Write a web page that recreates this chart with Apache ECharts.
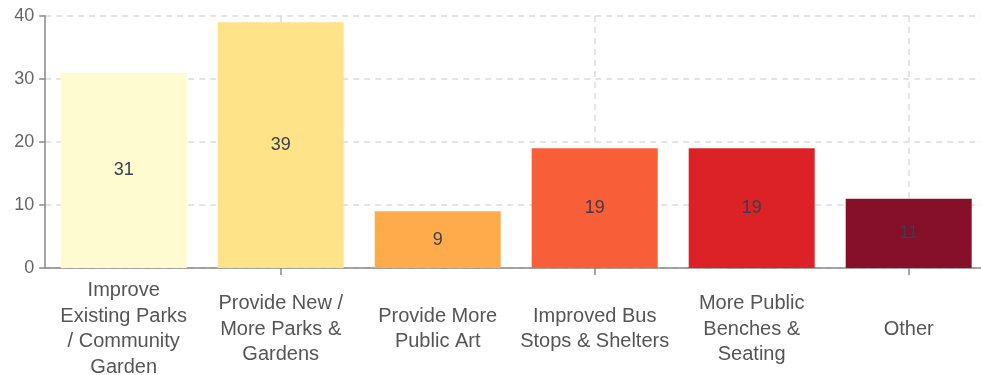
<!DOCTYPE html>
<html>
<head>
<meta charset="utf-8">
<script src="https://cdn.jsdelivr.net/npm/echarts@6/dist/echarts.min.js"></script>
<style>
  html, body { margin: 0; padding: 0; background: #ffffff; }
  #chart { width: 981px; height: 375px; }
</style>
</head>
<body>
<div id="chart"></div>
<script>
// Survey responses: preferred public-space improvements
const categories = [
  'Improve\nExisting Parks\n/ Community\nGarden',
  'Provide New /\nMore Parks &\nGardens',
  'Provide More\nPublic Art',
  'Improved Bus\nStops & Shelters',
  'More Public\nBenches &\nSeating',
  'Other'
];
const responses = [31, 39, 9, 19, 19, 11];
const barColors = ['#fffbd0', '#fee388', '#ffab4c', '#f85e38', '#dc2227', '#86102a'];
const yTicks = { min: 0, max: 40, interval: 10 };

const FONT = 'Liberation Sans, Arial, sans-serif';
const oddOnly = (i) => i % 2 === 1;

const chart = echarts.init(document.getElementById('chart'), null, { renderer: 'canvas' });
chart.setOption({
  animation: false,
  grid: { left: 45.2, top: 16, width: 942, height: 252, containLabel: false, outerBoundsMode: 'none' },
  xAxis: {
    type: 'category',
    data: categories,
    axisLine: { lineStyle: { color: '#888888', width: 1.5 } },
    axisTick: { show: true, alignWithLabel: true, interval: oddOnly, length: 7, lineStyle: { color: '#888888', width: 1.5 } },
    splitLine: { show: true, alignWithLabel: true, interval: oddOnly, lineStyle: { color: '#dcdcdc', type: [6, 5], width: 1.5 } },
    axisLabel: {
      interval: 0,
      margin: 61,
      verticalAlign: 'middle',
      fontFamily: FONT,
      fontSize: 20,
      lineHeight: 25.5,
      color: '#555555'
    }
  },
  yAxis: {
    type: 'value',
    min: yTicks.min,
    max: yTicks.max,
    interval: yTicks.interval,
    axisLine: { show: true, lineStyle: { color: '#888888', width: 1.5 } },
    axisTick: { show: true, length: 6, lineStyle: { color: '#888888', width: 1.5 } },
    splitLine: { show: true, lineStyle: { color: '#dcdcdc', type: [6, 5], width: 1.5 } },
    axisLabel: { margin: 11, fontFamily: FONT, fontSize: 18, color: '#666666' }
  },
  series: [{
    type: 'bar',
    barWidth: 126,
    data: responses.map((v, i) => ({ value: v, itemStyle: { color: barColors[i] } })),
    label: {
      show: true,
      position: 'inside',
      fontFamily: FONT,
      fontSize: 18,
      color: '#3a3e4e'
    }
  }]
});
</script>
</body>
</html>
